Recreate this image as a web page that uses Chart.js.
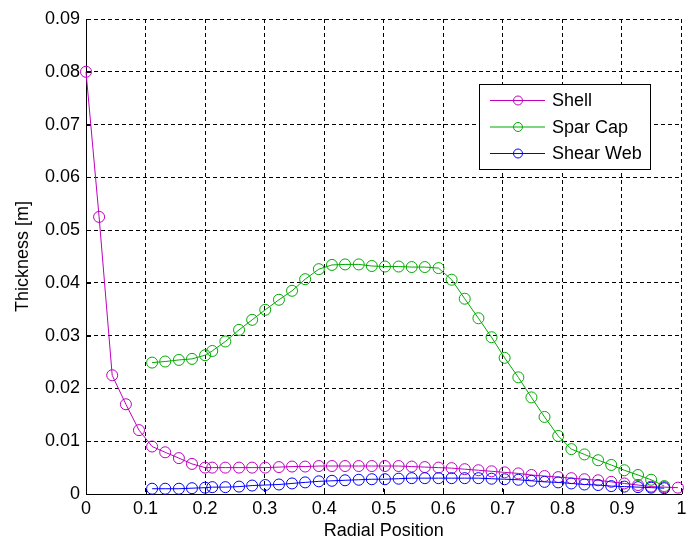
<!DOCTYPE html>
<html>
<head>
<meta charset="utf-8">
<title>Blade Thickness</title>
<script src="https://cdn.jsdelivr.net/npm/chart.js@4.4.1/dist/chart.umd.min.js"></script>
<style>
  html, body { margin: 0; padding: 0; background: #fff; }
  canvas { display: block; }
</style>
</head>
<body>
<canvas id="thicknessChart" width="688" height="540"></canvas>
<script>
// Radial stations (r/R)
const radialPos = [
    0, 0.022, 0.044, 0.067, 0.089, 0.111, 0.133, 0.156, 0.178, 0.200,
    0.212, 0.234, 0.257, 0.279, 0.301, 0.324, 0.346, 0.368, 0.391, 0.413,
    0.435, 0.458, 0.480, 0.502, 0.525, 0.547, 0.569, 0.592, 0.614, 0.636,
    0.659, 0.681, 0.703, 0.726, 0.748, 0.770, 0.793, 0.815, 0.837, 0.860,
    0.882, 0.904, 0.927, 0.949, 0.971, 0.994
];

// Shell thickness [m], all stations
const shellThk = [
    0.0800, 0.0525, 0.0225, 0.0170, 0.0121, 0.0090, 0.0079, 0.0068, 0.0057, 0.0050,
    0.0050, 0.0050, 0.0050, 0.0050, 0.0050, 0.0051, 0.0052, 0.0052, 0.0053, 0.0053,
    0.0053, 0.0053, 0.0053, 0.0053, 0.0053, 0.0052, 0.0051, 0.0050, 0.0049, 0.0047,
    0.0045, 0.0043, 0.0041, 0.0039, 0.0036, 0.0034, 0.0032, 0.0030, 0.0028, 0.0026,
    0.0023, 0.0020, 0.0017, 0.0014, 0.0013, 0.0012
];

// Spar cap and shear web only run from station 5 to station 44
const webFirst = 5;
const webLast = 44;

const sparCapThk = [
    0.0249, 0.0251, 0.0254, 0.0256, 0.0263,
    0.0271, 0.0289, 0.0311, 0.0330, 0.0349, 0.0368, 0.0385, 0.0407, 0.0426, 0.0434,
    0.0435, 0.0435, 0.0432, 0.0431, 0.0431, 0.0430, 0.0430, 0.0428, 0.0406, 0.0370,
    0.0333, 0.0297, 0.0258, 0.0221, 0.0183, 0.0146, 0.0110, 0.0085, 0.0075, 0.0064,
    0.0055, 0.0045, 0.0036, 0.0027, 0.0015
];

const shearWebThk = [
    0.0010, 0.0010, 0.0010, 0.0011, 0.0012,
    0.0013, 0.0013, 0.0014, 0.0016, 0.0017, 0.0018, 0.0020, 0.0022, 0.0024, 0.0025,
    0.0026, 0.0027, 0.0028, 0.0028, 0.0029, 0.0030, 0.0030, 0.0030, 0.0030, 0.0030,
    0.0030, 0.0029, 0.0028, 0.0027, 0.0025, 0.0023, 0.0022, 0.0020, 0.0018, 0.0017,
    0.0015, 0.0014, 0.0013, 0.0012, 0.0011
];

const xTicks = [0, 0.1, 0.2, 0.3, 0.4, 0.5, 0.6, 0.7, 0.8, 0.9, 1];
const xTickLabels = ['0', '0.1', '0.2', '0.3', '0.4', '0.5', '0.6', '0.7', '0.8', '0.9', '1'];
const yTicks = [0, 0.01, 0.02, 0.03, 0.04, 0.05, 0.06, 0.07, 0.08, 0.09];
const yTickLabels = ['0', '0.01', '0.02', '0.03', '0.04', '0.05', '0.06', '0.07', '0.08', '0.09'];

const FONT = "'Liberation Sans', Arial, Helvetica, sans-serif";

function toPoints(xs, ys) {
    return ys.map((y, i) => ({ x: xs[i], y: y }));
}

const webPos = radialPos.slice(webFirst, webLast + 1);

// Small inward tick marks on the bottom and left axes
const insideTicks = {
    id: 'insideTicks',
    beforeDatasetsDraw(chart) {
        const { ctx, chartArea, scales } = chart;
        ctx.save();
        ctx.strokeStyle = '#000';
        ctx.lineWidth = 1;
        ctx.beginPath();
        scales.x.ticks.forEach(t => {
            const px = Math.round(scales.x.getPixelForValue(t.value)) + 0.5;
            ctx.moveTo(px, chartArea.bottom);
            ctx.lineTo(px, chartArea.bottom - 5);
        });
        scales.y.ticks.forEach(t => {
            const py = Math.round(scales.y.getPixelForValue(t.value)) + 0.5;
            ctx.moveTo(chartArea.left, py);
            ctx.lineTo(chartArea.left + 5, py);
        });
        ctx.stroke();
        ctx.restore();
    }
};

// Boxed legend sitting inside the plot area
const boxLegend = {
    id: 'boxLegend',
    afterDatasetsDraw(chart) {
        const ctx = chart.ctx;
        const box = { x: 479.5, y: 84.5, w: 171, h: 85 };
        ctx.save();
        ctx.fillStyle = '#fff';
        ctx.fillRect(box.x, box.y, box.w, box.h);
        ctx.strokeStyle = '#000';
        ctx.lineWidth = 1;
        ctx.strokeRect(box.x, box.y, box.w, box.h);

        ctx.font = '18px ' + FONT;
        ctx.textBaseline = 'middle';
        ctx.textAlign = 'left';
        chart.data.datasets.forEach((ds, i) => {
            const y = box.y + 16 + i * 26.5;
            ctx.strokeStyle = ds.borderColor;
            ctx.lineWidth = 1;
            ctx.beginPath();
            ctx.moveTo(490, y);
            ctx.lineTo(545, y);
            ctx.stroke();
            ctx.beginPath();
            ctx.arc(518, y, 4.5, 0, Math.PI * 2);
            ctx.stroke();
            ctx.fillStyle = '#000';
            ctx.fillText(ds.label, 552, y + 1);
        });
        ctx.restore();
    }
};

function seriesStyle(color) {
    return {
        borderColor: color,
        backgroundColor: 'rgba(0,0,0,0)',
        borderWidth: 1,
        pointRadius: 5.5,
        pointHoverRadius: 5.5,
        pointBorderWidth: 1,
        pointBorderColor: color,
        pointBackgroundColor: 'rgba(0,0,0,0)',
        tension: 0,
        fill: false,
        clip: false
    };
}

new Chart(document.getElementById('thicknessChart'), {
    type: 'line',
    data: {
        datasets: [
            { label: 'Shell', data: toPoints(radialPos, shellThk), order: 3, ...seriesStyle('#BF00BF') },
            { label: 'Spar Cap', data: toPoints(webPos, sparCapThk), order: 2, ...seriesStyle('#00AA00') },
            { label: 'Shear Web', data: toPoints(webPos, shearWebThk), order: 1, ...seriesStyle('#0000FF') }
        ]
    },
    options: {
        responsive: false,
        animation: false,
        layout: {
            padding: { top: 19, right: 5, left: 0, bottom: 0 }
        },
        plugins: {
            legend: { display: false },
            tooltip: { enabled: false }
        },
        scales: {
            x: {
                type: 'linear',
                min: 0,
                max: 1,
                afterBuildTicks: s => { s.ticks = xTicks.map(v => ({ value: v })); },
                afterFit: s => {
                    s.height = 46;
                    s.paddingLeft = 0;
                    s.paddingRight = 0;
                },
                ticks: {
                    autoSkip: false,
                    maxRotation: 0,
                    padding: 4,
                    color: '#000',
                    font: { family: FONT, size: 18 },
                    callback: (v, i) => xTickLabels[i]
                },
                grid: {
                    color: '#000',
                    lineWidth: 1,
                    drawTicks: false
                },
                border: {
                    display: true,
                    color: '#000',
                    width: 1,
                    dash: [4, 3]
                },
                title: {
                    display: true,
                    text: 'Radial Position',
                    color: '#000',
                    font: { family: FONT, size: 18, lineHeight: 1 },
                    padding: { top: 0, bottom: 0 }
                }
            },
            y: {
                type: 'linear',
                min: 0,
                max: 0.09,
                afterBuildTicks: s => { s.ticks = yTicks.map(v => ({ value: v })); },
                afterFit: s => {
                    s.width = 86;
                    s.paddingTop = 0;
                    s.paddingBottom = 0;
                },
                ticks: {
                    autoSkip: false,
                    padding: 6,
                    color: '#000',
                    font: { family: FONT, size: 18 },
                    callback: (v, i) => yTickLabels[i]
                },
                grid: {
                    color: '#000',
                    lineWidth: 1,
                    drawTicks: false
                },
                border: {
                    display: true,
                    color: '#000',
                    width: 1,
                    dash: [4, 3]
                },
                title: {
                    display: true,
                    text: 'Thickness [m]',
                    color: '#000',
                    font: { family: FONT, size: 18 },
                    padding: { top: 12, bottom: 0 }
                }
            }
        }
    },
    plugins: [insideTicks, boxLegend]
});
</script>
</body>
</html>
